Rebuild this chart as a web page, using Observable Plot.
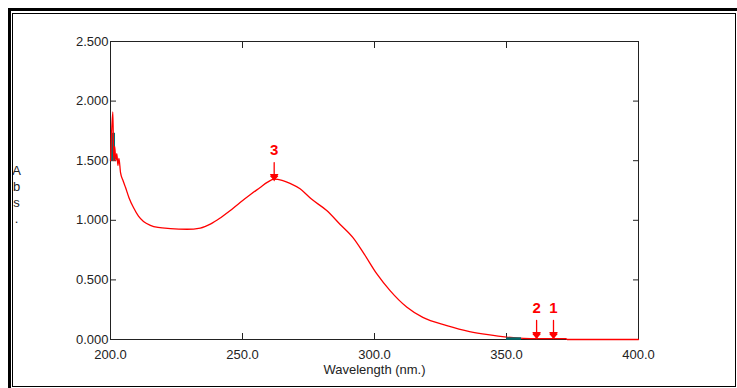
<!DOCTYPE html>
<html><head><meta charset="utf-8">
<script src="https://cdn.jsdelivr.net/npm/d3@7"></script>
<script src="https://cdn.jsdelivr.net/npm/@observablehq/plot@0.6"></script>
<style>
html,body{margin:0;padding:0;background:#fff;}
#wrap{position:relative;width:737px;height:388px;overflow:hidden;background:#fff;}
#wrap svg{position:absolute;left:0;top:0;}
#thick{position:absolute;left:8px;top:8px;width:729px;height:380px;border-left:3px solid #000;border-top:3px solid #000;box-sizing:border-box;}
#thin{position:absolute;left:12px;top:13px;width:724px;height:374px;border:1px solid #000;box-sizing:border-box;}
</style></head>
<body>
<div id="wrap"><div id="thick"></div><div id="thin"></div></div>
<script>
// ---- data ----
const wavelengths = [200.0,200.4,200.9,201.2,201.6,202.0,202.4,202.8,203.2,203.8,204.8,205.7,207.0,208.7,210.6,212.5,215.1,218.0,222.7,229.0,234.0,238.0,241.6,245.0,249.1,252.9,256.7,259.5,262.0,265.0,268.0,271.8,276.0,281.9,287.0,292.0,296.0,300.9,305.9,312.3,318.3,327.4,336.0,343.0,350.0,355.0,360.0,365.0,372.5,373.0,400.0];
const absorbance  = [1.50,1.73,1.91,1.50,1.62,1.50,1.56,1.46,1.52,1.40,1.33,1.275,1.19,1.107,1.035,0.99,0.958,0.94,0.93,0.925,0.935,0.97,1.02,1.075,1.15,1.215,1.275,1.32,1.345,1.335,1.31,1.264,1.18,1.082,0.965,0.85,0.72,0.55,0.41,0.27,0.185,0.117,0.067,0.04,0.02,0.012,0.008,0.008,0.008,0.0,0.0];
const xTicks = [200, 250, 300, 350, 400];
const yTicks = [0, 0.5, 1.0, 1.5, 2.0, 2.5];
const peakLabels = ["3", "2", "1"];
const peakWl = [262.0, 361.4, 367.8];
const peakAbs = [1.342, 0.017, 0.017];
// teal highlighted regions
const tealBoxWl = [200.4, 201.9];
const tealBoxAbs = [1.50, 1.73];
const tealSegWl = [350.0, 355.7];
const tealSegAbs = [0.008];
const xLabel = "Wavelength (nm.)";
const yLabel = "A\nb\ns\n.";

const rows = wavelengths.map((w, i) => ({w, a: absorbance[i]}));
const peaks = peakLabels.map((n, i) => ({n, w: peakWl[i], a: peakAbs[i]}));
const tealBox = [{x1: tealBoxWl[0], x2: tealBoxWl[1], y1: tealBoxAbs[0], y2: tealBoxAbs[1]}];
const tealSeg = [{x1: tealSegWl[0], x2: tealSegWl[1], y: tealSegAbs[0]}];

const font = "'Liberation Sans', Arial, sans-serif";
const ink = "#222";

const chart = Plot.plot({
  width: 737, height: 388,
  marginLeft: 110, marginRight: 99, marginTop: 41, marginBottom: 49,
  x: {domain: [200, 400], label: null},
  y: {domain: [0, 2.5], label: null},
  style: {fontFamily: font, fontSize: "13px", color: ink, background: "transparent", overflow: "visible"},
  marks: [
    Plot.frame({stroke: ink}),
    Plot.axisY(yTicks, {anchor: "left", tickSize: 6, dx: 6, tickPadding: 2, tickFormat: d3.format(".3f"), label: null, stroke: ink, fill: ink}),
    Plot.axisY(yTicks, {anchor: "right", tickSize: 6, dx: -6, tickFormat: () => "", label: null, stroke: ink}),
    Plot.axisX(xTicks, {anchor: "bottom", tickSize: 6, dy: -6, tickPadding: 10, tickFormat: d3.format(".1f"), label: null, stroke: ink, fill: ink}),
    Plot.axisX(xTicks, {anchor: "top", tickSize: 6, dy: 6, tickFormat: () => "", label: null, stroke: ink}),
    Plot.rect(tealBox, {x1: "x1", x2: "x2", y1: "y1", y2: "y2", fill: "#007070"}),
    Plot.line(rows, {x: "w", y: "a", stroke: "#ff0000", strokeWidth: 1.3, curve: "monotone-x"}),
    Plot.ruleY(tealSeg, {y: "y", x1: "x1", x2: "x2", stroke: "#006b6b", strokeWidth: 2.5}),
    Plot.vector(peaks, {x: "w", y: "a", length: 17, rotate: 180, anchor: "end", stroke: "#ff0000", strokeWidth: 1.3}),
    Plot.dot(peaks, {x: "w", y: "a", symbol: "triangle", r: 3.2, rotate: 180, fill: "#ff0000", stroke: "none", dy: -3}),
    Plot.text(peaks, {x: "w", y: "a", text: "n", dy: -29.5, fill: "#ff0000", fontWeight: "bold", fontSize: 15}),
    Plot.text([yLabel], {text: d => d, frameAnchor: "left", dx: -94, dy: 3, lineHeight: 1.23, textAnchor: "middle", fontSize: 13, fill: ink}),
    Plot.text([xLabel], {text: d => d, frameAnchor: "bottom", dy: 34, fontSize: 13, fill: ink})
  ]
});
document.getElementById("wrap").prepend(chart);
</script>
</body></html>
